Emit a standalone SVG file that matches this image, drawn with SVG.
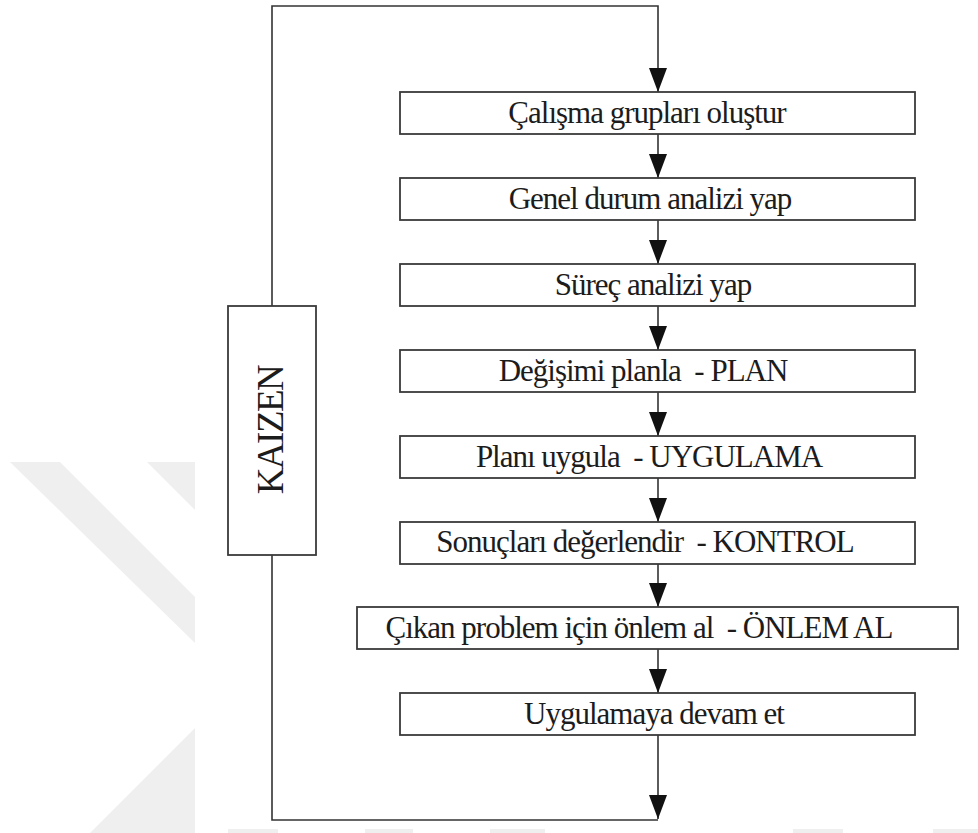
<svg xmlns="http://www.w3.org/2000/svg" width="978" height="833" viewBox="0 0 978 833">
  <style>
    .box { fill: #ffffff; stroke: #3a3a3a; stroke-width: 1.8; }
    .lbl { font-family: "Liberation Serif", "Times New Roman", serif; font-size: 31px; letter-spacing: -1px; fill: #1c1c1c; text-anchor: middle; white-space: pre; }
    .side { font-family: "Liberation Serif", "Times New Roman", serif; font-size: 37px; letter-spacing: -1.5px; fill: #1c1c1c; text-anchor: middle; }
    .wire { fill: none; stroke: #333333; stroke-width: 1.6; }
    .mark { fill: #efefef; }
  </style>
  <defs>
    <marker id="arrow" viewBox="0 0 24 18" refX="24" refY="9" markerWidth="24" markerHeight="18" markerUnits="userSpaceOnUse" orient="auto">
      <path d="M0,0 L24,9 L0,18 Z" fill="#111111"/>
    </marker>
  </defs>

  <rect width="978" height="833" fill="#ffffff"/>

  <!-- faint background mark -->
  <g id="background-mark">
    <polygon class="mark" points="10,462 60,462 195,597 195,643"/>
    <polygon class="mark" points="147,462 195,462 195,510"/>
    <polygon class="mark" points="90,833 195,728 195,833"/>
    <rect class="mark" x="228" y="829" width="50" height="4"/>
    <rect class="mark" x="365" y="829" width="48" height="4"/>
    <rect class="mark" x="490" y="829" width="55" height="4"/>
    <rect class="mark" x="793" y="829" width="50" height="4"/>
    <rect class="mark" x="933" y="829" width="45" height="4"/>
  </g>

  <!-- connectors -->
  <g id="connectors">
    <!-- feedback loop through KAIZEN -->
    <polyline class="wire" points="272,306 272,6 658,6 658,92" marker-end="url(#arrow)"/>
    <polyline class="wire" points="272,555 272,820 658,820"/>
    <line class="wire" x1="658" y1="735" x2="658" y2="819" marker-end="url(#arrow)"/>
    <!-- step to step -->
    <line class="wire" x1="658" y1="134" x2="658" y2="178" marker-end="url(#arrow)"/>
    <line class="wire" x1="658" y1="220" x2="658" y2="264" marker-end="url(#arrow)"/>
    <line class="wire" x1="658" y1="306" x2="658" y2="350" marker-end="url(#arrow)"/>
    <line class="wire" x1="658" y1="392" x2="658" y2="436" marker-end="url(#arrow)"/>
    <line class="wire" x1="658" y1="478" x2="658" y2="522" marker-end="url(#arrow)"/>
    <line class="wire" x1="658" y1="564" x2="658" y2="607" marker-end="url(#arrow)"/>
    <line class="wire" x1="658" y1="649" x2="658" y2="693" marker-end="url(#arrow)"/>
  </g>

  <!-- side box -->
  <g id="kaizen">
    <rect class="box" x="228" y="306" width="88" height="249"/>
    <text class="side" transform="translate(283,430) rotate(-90)">KAIZEN</text>
  </g>

  <!-- process steps -->
  <g id="step1">
    <rect class="box" x="400" y="92" width="515" height="42"/>
    <text class="lbl" x="647" y="123">Çalışma grupları oluştur</text>
  </g>
  <g id="step2">
    <rect class="box" x="400" y="178" width="515" height="42"/>
    <text class="lbl" x="650" y="209">Genel durum analizi yap</text>
  </g>
  <g id="step3">
    <rect class="box" x="400" y="264" width="515" height="42"/>
    <text class="lbl" x="653" y="295">Süreç analizi yap</text>
  </g>
  <g id="step4">
    <rect class="box" x="400" y="350" width="515" height="42"/>
    <text class="lbl" x="643" y="381">Değişimi planla  - PLAN</text>
  </g>
  <g id="step5">
    <rect class="box" x="400" y="436" width="515" height="42"/>
    <text class="lbl" x="649" y="467">Planı uygula  - UYGULAMA</text>
  </g>
  <g id="step6">
    <rect class="box" x="400" y="522" width="515" height="42"/>
    <text class="lbl" x="645" y="552">Sonuçları değerlendir  - KONTROL</text>
  </g>
  <g id="step7">
    <rect class="box" x="357" y="607" width="601" height="42"/>
    <text class="lbl" x="639" y="638">Çıkan problem için önlem al  - ÖNLEM AL</text>
  </g>
  <g id="step8">
    <rect class="box" x="400" y="693" width="515" height="42"/>
    <text class="lbl" x="654" y="724">Uygulamaya devam et</text>
  </g>
</svg>
